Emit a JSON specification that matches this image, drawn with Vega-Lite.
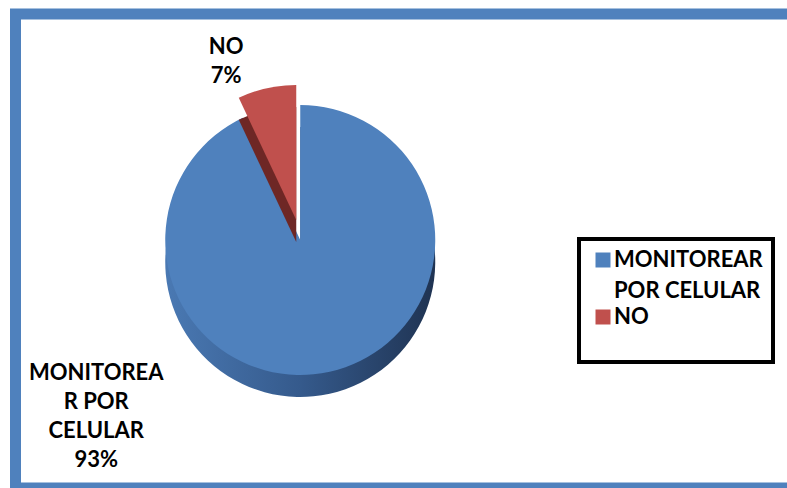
{
  "$schema": "https://vega.github.io/schema/vega-lite/v6.json",
  "autosize": "none",
  "width": 771.5,
  "height": 474,
  "padding": {"left": 15.5, "top": 14, "right": 0, "bottom": 0},
  "background": "white",
  "view": {"stroke": "#4F81BD", "strokeWidth": 11, "cornerRadius": 0, "strokeDash": [771.5, 474, 1245.5]},
  "config": {
    "view": {"stroke": "#4F81BD", "strokeWidth": 11, "cornerRadius": 0, "strokeDash": [771.5, 474, 1245.5]},
    "legend": {"strokeWidth": 4},
    "style": {"guide-label": {"lineHeight": 31}},
    "text": {"font": "Lato", "fontWeight": "bold", "fontSize": 22, "lineHeight": 29, "color": "black"}
  },
  "data": {
    "values": [
      {"cat": "MONITOREAR POR CELULAR", "value": 93, "ord": 1, "label": "MONITOREA\nR POR\nCELULAR\n93%"},
      {"cat": "NO", "value": 7, "ord": 2, "label": "NO\n7%"}
    ]
  },
  "transform": [
    {"stack": "value", "groupby": [], "sort": [{"field": "ord"}], "as": ["v0", "v1"]}
  ],
  "layer": [
    {
      "transform": [{"filter": "datum.cat === 'MONITOREAR POR CELULAR'"}],
      "mark": {"type": "arc", "radius": 135, "xOffset": -101, "yOffset": 11,
        "fill": {"gradient": "linear", "x1": 0, "y1": 0, "x2": 1, "y2": 0,
          "stops": [{"offset": 0, "color": "#4a79b3"}, {"offset": 0.5, "color": "#355a8c"}, {"offset": 1, "color": "#1f3352"}]}},
      "encoding": {
        "theta": {"field": "v0", "type": "quantitative", "scale": {"domain": [0, 100]}},
        "theta2": {"field": "v1"}
      }
    },
    {
      "transform": [{"filter": "datum.cat === 'MONITOREAR POR CELULAR'"}],
      "mark": {"type": "arc", "radius": 135, "xOffset": -101, "yOffset": -11},
      "encoding": {
        "theta": {"field": "v0", "type": "quantitative", "scale": {"domain": [0, 100]}},
        "theta2": {"field": "v1"},
        "color": {
          "field": "cat", "type": "nominal",
          "scale": {"domain": ["MONITOREAR POR CELULAR", "NO"], "range": ["#4F81BD", "#C0504D"]},
          "legend": {
            "title": " ", "titleOrient": "bottom", "titleFontSize": 20, "titlePadding": 4,
            "orient": "none", "legendX": 563.5, "legendY": 225,
            "padding": 10, "symbolOffset": 3,
            "strokeColor": "black", "cornerRadius": 0,
            "symbolType": "square", "symbolSize": 225, "symbolStrokeWidth": 0,
            "labelFont": "Lato", "labelFontWeight": "bold", "labelFontSize": 22,
            "labelColor": "black", "labelLimit": 300, "labelOffset": 0, "rowPadding": 4,
            "labelExpr": "datum.label === 'MONITOREAR POR CELULAR' ? ['MONITOREAR', 'POR CELULAR'] : datum.label"
          }
        }
      }
    },
    {
      "transform": [{"filter": "datum.cat === 'NO'"}],
      "mark": {"type": "arc", "radius": 135, "xOffset": -105, "yOffset": -9, "fill": "#6e2725"},
      "encoding": {
        "theta": {"field": "v0", "type": "quantitative", "scale": {"domain": [0, 100]}},
        "theta2": {"field": "v1"}
      }
    },
    {
      "transform": [{"filter": "datum.cat === 'NO'"}],
      "mark": {"type": "arc", "radius": 135, "xOffset": -105, "yOffset": -31},
      "encoding": {
        "theta": {"field": "v0", "type": "quantitative", "scale": {"domain": [0, 100]}},
        "theta2": {"field": "v1"},
        "color": {"field": "cat", "type": "nominal"}
      }
    },
    {
      "transform": [{"filter": "datum.cat === 'NO'"}],
      "mark": {"type": "text", "radius": 200, "xOffset": -90, "yOffset": -23, "lineBreak": "\n", "align": "center", "baseline": "middle"},
      "encoding": {
        "theta": {"field": "v0", "type": "quantitative", "scale": {"domain": [0, 100]}},
        "text": {"field": "label"}
      }
    },
    {
      "transform": [{"filter": "datum.cat === 'MONITOREAR POR CELULAR'"}],
      "mark": {"type": "text", "radius": 0, "xOffset": -305, "yOffset": 122, "lineBreak": "\n", "align": "center", "baseline": "middle"},
      "encoding": {
        "theta": {"field": "v0", "type": "quantitative", "scale": {"domain": [0, 100]}},
        "text": {"field": "label"}
      }
    }
  ]
}
